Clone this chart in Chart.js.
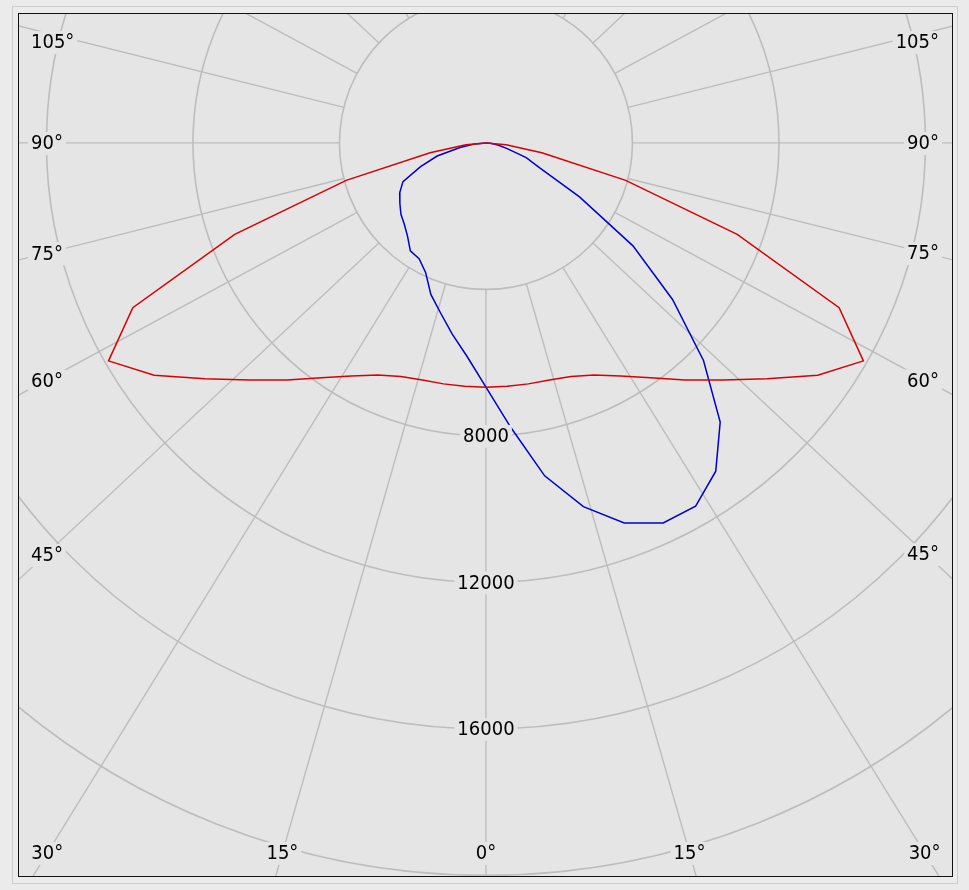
<!DOCTYPE html>
<html lang="en">
<head>
<meta charset="utf-8">
<title>Polar intensity diagram</title>
<script src="https://cdn.jsdelivr.net/npm/chart.js@4.4.1/dist/chart.umd.min.js"></script>
<style>
  html, body { margin: 0; padding: 0; background: #ebebeb; }
  #wrap { width: 969px; height: 890px; }
</style>
</head>
<body>
<div id="wrap"><canvas id="polar" width="969" height="890"></canvas></div>
<script>
// gamma angles (deg from nadir), one value per 5 degrees
var angles = [0, 5, 10, 15, 20, 25, 30, 35, 40, 45, 50, 55, 60, 65, 70, 75, 80, 85, 90];

// C0 / C180 plane (red), cd
var redC0   = [6670, 6670, 6680, 6700, 6790, 6990, 7350, 7830, 8450, 9150, 10020, 11060, 11900, 10640, 7300, 3950, 1550, 550, 0];
var redC180 = [6670, 6670, 6680, 6700, 6790, 6990, 7350, 7830, 8450, 9150, 10020, 11060, 11900, 10640, 7300, 3950, 1550, 550, 0];

// C90 / C270 plane (blue), cd
var blueC90  = [6670, 7800, 9230, 10280, 11040, 11450, 11450, 10940, 9950, 8400, 6650, 4900, 2950, 1630, 1170, 600, 330, 130, 0];
var blueC270 = [6670, 5860, 5300, 4800, 4400, 3900, 3650, 3600, 3330, 3150, 3030, 2870, 2720, 2500, 1900, 1380, 720, 300, 0];

// grid
var rings = [4000, 8000, 12000, 16000, 20000, 24000, 28000];
var ringLabels = [8000, 12000, 16000];
var spokeStep = 15;
var angleLabels = [0, 15, 30, 45, 60, 75, 90, 105];

var BG = '#e5e5e5';
var GRID = '#bdbdbd';
var FONT = '20px "DejaVu Sans Condensed", "Liberation Sans", sans-serif';
var SPOKE_STRETCH = 1.07; // spokes of the original are drawn a bit wider than true angle

function planePoints(rightVals, leftVals) {
  var pts = [];
  for (var i = angles.length - 1; i >= 0; i--) {
    var a = angles[i] * Math.PI / 180;
    pts.push({x: -leftVals[i] * Math.sin(a), y: -leftVals[i] * Math.cos(a)});
  }
  for (var j = 1; j < angles.length; j++) {
    var b = angles[j] * Math.PI / 180;
    pts.push({x: rightVals[j] * Math.sin(b), y: -rightVals[j] * Math.cos(b)});
  }
  return pts;
}

function spokeDir(g) {
  var a = g * Math.PI / 180;
  var dx = Math.sin(a) * SPOKE_STRETCH, dy = Math.cos(a);
  var n = Math.sqrt(dx * dx + dy * dy);
  return {dx: dx / n, dy: dy / n};
}

var polarGrid = {
  id: 'polarGrid',
  beforeDraw: function(chart) {
    var ctx = chart.ctx;
    ctx.save();
    ctx.fillStyle = '#ebebeb';
    ctx.fillRect(0, 0, chart.width, chart.height);
    ctx.strokeStyle = '#cdcdcd';
    ctx.lineWidth = 1;
    ctx.strokeRect(12.5, 6.5, 945, 877);
    ctx.restore();
  },
  beforeDatasetsDraw: function(chart) {
    var ctx = chart.ctx, area = chart.chartArea;
    var xs = chart.scales.x, ys = chart.scales.y;
    var cx = xs.getPixelForValue(0), cy = ys.getPixelForValue(0);
    var unit = xs.getPixelForValue(1000) - cx; // px per 1000 cd
    ctx.save();
    ctx.fillStyle = BG;
    ctx.fillRect(area.left, area.top, area.right - area.left, area.bottom - area.top);
    ctx.beginPath();
    ctx.rect(area.left, area.top, area.right - area.left, area.bottom - area.top);
    ctx.clip();
    ctx.strokeStyle = GRID;
    ctx.lineWidth = 1.6;
    rings.forEach(function(r) {
      ctx.beginPath();
      ctx.arc(cx, cy, r / 1000 * unit, 0, Math.PI * 2);
      ctx.stroke();
    });
    var r0 = rings[0] / 1000 * unit, r1 = 40 * unit;
    ctx.lineWidth = 1.4;
    for (var g = -180 + spokeStep; g <= 180; g += spokeStep) {
      var d = spokeDir(g);
      ctx.beginPath();
      ctx.moveTo(cx + r0 * d.dx, cy + r0 * d.dy);
      ctx.lineTo(cx + r1 * d.dx, cy + r1 * d.dy);
      ctx.stroke();
    }
    ctx.restore();
  },
  afterDatasetsDraw: function(chart) {
    var ctx = chart.ctx, area = chart.chartArea;
    var xs = chart.scales.x, ys = chart.scales.y;
    var cx = xs.getPixelForValue(0), cy = ys.getPixelForValue(0);
    var unit = xs.getPixelForValue(1000) - cx;
    ctx.save();
    ctx.font = FONT;
    ctx.textBaseline = 'middle';

    function boxText(txt, x, y, align) {
      var w = ctx.measureText(txt).width;
      var left = align === 'left' ? x : (align === 'right' ? x - w : x - w / 2);
      ctx.fillStyle = BG;
      ctx.fillRect(left - 3, y - 11, w + 6, 23);
      ctx.fillStyle = '#000';
      ctx.textAlign = align;
      ctx.fillText(txt, x, y + 1);
    }

    ringLabels.forEach(function(v) {
      boxText(String(v), cx, cy + v / 1000 * unit, 'center');
    });

    // angle labels: where each spoke meets a rectangle just inside the frame
    var inL = area.left + 26, inR = area.right - 26, inB = area.bottom - 23, inT = area.top + 28;
    angleLabels.forEach(function(g) {
      [-1, 1].forEach(function(side) {
        if (g === 0 && side < 0) return;
        var d = spokeDir(g);
        var dx = d.dx * side, dy = d.dy;
        var t = Infinity;
        if (dx > 1e-6) t = Math.min(t, (inR - cx) / dx);
        if (dx < -1e-6) t = Math.min(t, (inL - cx) / dx);
        if (dy > 1e-6) t = Math.min(t, (inB - cy) / dy);
        if (dy < -1e-6) t = Math.min(t, (inT - cy) / dy);
        var px = cx + dx * t, py = cy + dy * t;
        var txt = g + '\u00B0';
        if (Math.abs(py - inB) < 0.5) {
          boxText(txt, px, py, 'center');
        } else if (side < 0) {
          boxText(txt, area.left + 12, py, 'left');
        } else {
          boxText(txt, area.right - 13, py, 'right');
        }
      });
    });

    ctx.strokeStyle = '#111';
    ctx.lineWidth = 1;
    ctx.strokeRect(area.left - 0.5, area.top - 0.5, area.right - area.left + 1, area.bottom - area.top + 1);
    ctx.restore();
  }
};

var chart = new Chart(document.getElementById('polar'), {
  type: 'scatter',
  data: {
    datasets: [{
      label: 'C0 - C180',
      data: planePoints(redC0, redC180),
      showLine: true,
      borderColor: '#d80000',
      borderWidth: 1.5,
      pointRadius: 0,
      tension: 0
    }, {
      label: 'C90 - C270',
      data: planePoints(blueC90, blueC270),
      showLine: true,
      borderColor: '#0000d0',
      borderWidth: 1.5,
      pointRadius: 0,
      tension: 0
    }]
  },
  options: {
    responsive: false,
    animation: false,
    layout: { padding: { left: 19, top: 14, right: 17, bottom: 14 } },
    plugins: { legend: { display: false }, tooltip: { enabled: false } },
    scales: {
      x: { type: 'linear', min: -12750, max: 12725, display: false },
      y: { type: 'linear', min: -20015, max: 3520, display: false }
    }
  },
  plugins: [polarGrid]
});
</script>
</body>
</html>
